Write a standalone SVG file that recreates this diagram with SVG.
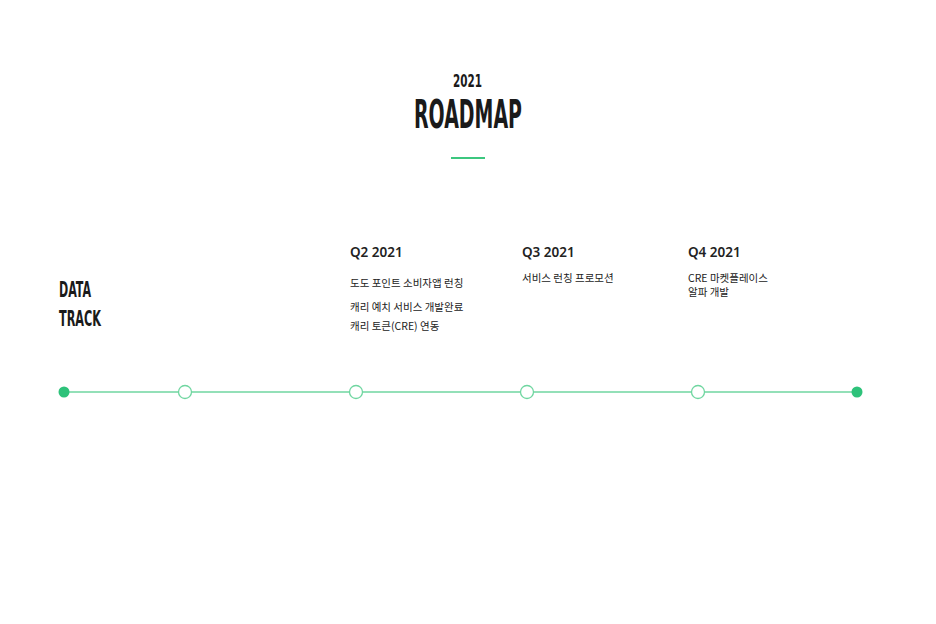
<svg xmlns="http://www.w3.org/2000/svg" width="936" height="624" viewBox="0 0 936 624">
<style>
.disp{font-family:"Liberation Sans Narrow","DejaVu Sans Condensed","Liberation Sans",sans-serif;font-weight:bold;fill:#1a1a1a}
.q{font-family:"Noto Sans","Open Sans","Noto Sans CJK KR",sans-serif;font-weight:600;font-size:13.5px;fill:#222}
.t{font-family:"Noto Sans CJK KR","Noto Sans",sans-serif;font-size:10.5px;fill:#222}
.line{stroke:#6fd6a0;stroke-width:1.3;fill:none}
.hol{fill:#fff;stroke:#6fd6a0;stroke-width:1.3}
.fil{fill:#2ec27a}
</style>
<rect width="936" height="624" fill="#fff"/>
<g id="title">
<text class="disp" x="467.5" y="87" text-anchor="middle" font-size="17" textLength="29" lengthAdjust="spacingAndGlyphs">2021</text>
<text class="disp" x="468" y="128" text-anchor="middle" font-size="39" textLength="108" lengthAdjust="spacingAndGlyphs">ROADMAP</text>
<rect x="451" y="157" width="34" height="2" fill="#3cc77f"/>
</g>
<g id="track-label">
<text class="disp" x="59" y="297" font-size="21" textLength="32" lengthAdjust="spacingAndGlyphs">DATA</text>
<text class="disp" x="59" y="326" font-size="21" textLength="42" lengthAdjust="spacingAndGlyphs">TRACK</text>
</g>
<g id="q2">
<text class="q" x="350" y="257">Q2 2021</text>
<text class="t" x="350" y="287">도도 포인트 소비자앱 런칭</text>
<text class="t" x="350" y="311">캐리 예치 서비스 개발완료</text>
<text class="t" x="350" y="330">캐리 토큰(CRE) 연동</text>
</g>
<g id="q3">
<text class="q" x="522" y="257">Q3 2021</text>
<text class="t" x="522" y="282">서비스 런칭 프로모션</text>
</g>
<g id="q4">
<text class="q" x="688" y="257">Q4 2021</text>
<text class="t" x="688" y="282">CRE 마켓플레이스</text>
<text class="t" x="688" y="296" font-size="10.2">알파 개발</text>
</g>
<g id="connectors">
<line class="line" x1="64" y1="392" x2="857" y2="392"/>
</g>
<g id="nodes">
<circle id="n0" class="fil" cx="64" cy="392" r="5.5"/>
<circle id="n1" class="hol" cx="185" cy="392" r="6.5"/>
<circle id="n2" class="hol" cx="356" cy="392" r="6.5"/>
<circle id="n3" class="hol" cx="527" cy="392" r="6.5"/>
<circle id="n4" class="hol" cx="698" cy="392" r="6.5"/>
<circle id="n5" class="fil" cx="857" cy="392" r="5.5"/>
</g>
</svg>
